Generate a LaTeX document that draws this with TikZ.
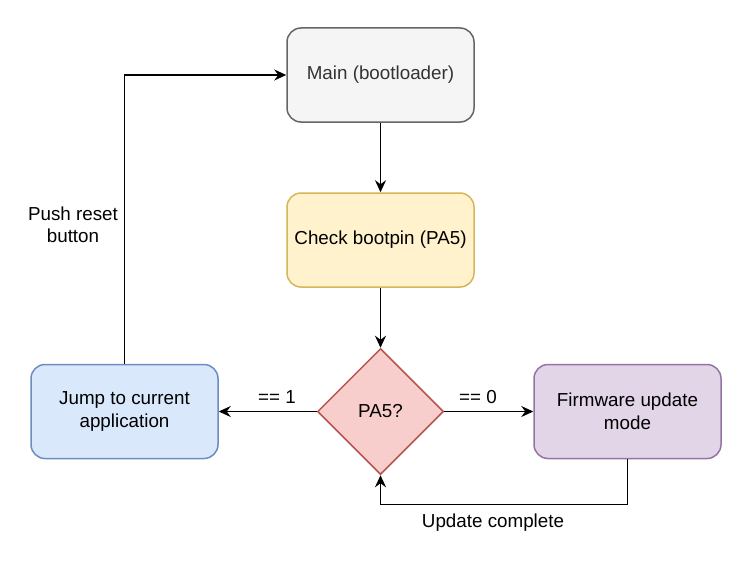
\documentclass[tikz,border=0pt]{standalone}
\usepackage{fontspec}
\setmainfont{Liberation Sans}
\usepackage{tikz}
\usepackage{xcolor}
\usetikzlibrary{
    arrows.meta,
    shapes.geometric,
    calc,
    positioning
}
\definecolor{grayfill}{HTML}{F5F5F5}
\definecolor{graydraw}{HTML}{666666}
\definecolor{graytext}{HTML}{333333}
\definecolor{yellowfill}{HTML}{FFF2CC}
\definecolor{yellowdraw}{HTML}{D6B656}
\definecolor{redfill}{HTML}{F8CECC}
\definecolor{reddraw}{HTML}{B85450}
\definecolor{bluefill}{HTML}{DAE8FC}
\definecolor{bluedraw}{HTML}{6C8EBF}
\definecolor{purplefill}{HTML}{E1D5E7}
\definecolor{purpledraw}{HTML}{9673A6}

\begin{document}
\begin{tikzpicture}[x=1pt, y=-1pt,
        font=\fontsize{18.8}{22.5}\selectfont,
        box/.style={rectangle, rounded corners=14pt, line width=1.5pt,
            minimum width=187pt, minimum height=94pt, align=center},
        decision/.style={diamond, line width=1.5pt, inner sep=0pt,
            minimum width=126pt, minimum height=126pt, align=center},
        flow/.style={line width=1.6pt,
            -{Stealth[length=12pt, width=11pt, inset=4pt]}}]
                        \useasboundingbox (0, 0) rectangle (752, 578);
                        \node[box, fill=grayfill, draw=graydraw, text=graytext] (main) at (380.5, 75) {Main (bootloader)};
                        \node[box, fill=yellowfill, draw=yellowdraw] (check) at (380.5, 240) {Check bootpin (PA5)};
                        \node[decision, fill=redfill, draw=reddraw] (pa) at (380.5, 411.5) {PA5?};
                        \node[box, fill=bluefill, draw=bluedraw] (jump) at (124.5, 411.5) {Jump to current\\application};
                        \node[box, fill=purplefill, draw=purpledraw] (fw) at (627.5, 411.5) {Firmware update\\mode};
                        \coordinate (ret) at (380.5, 504.5);
                        \node (one) at (277, 397) {== 1};
                        \node (zero) at (478, 397) {== 0};
                        \node (done) at (493, 523) {Update complete};
                        \node[align=center] (reset) at (73, 225) {Push reset\\button};
                        \draw[flow] (main) -- (check);
                        \draw[flow] (check) -- (pa);
                        \draw[flow] (pa) -- (jump);
                        \draw[flow] (pa) -- (fw);
                        \draw[flow] (fw.south) |- (ret) -- (pa.south);
                        \draw[flow] (jump.north) |- (main.west);
                    \end{tikzpicture}
\end{document}
